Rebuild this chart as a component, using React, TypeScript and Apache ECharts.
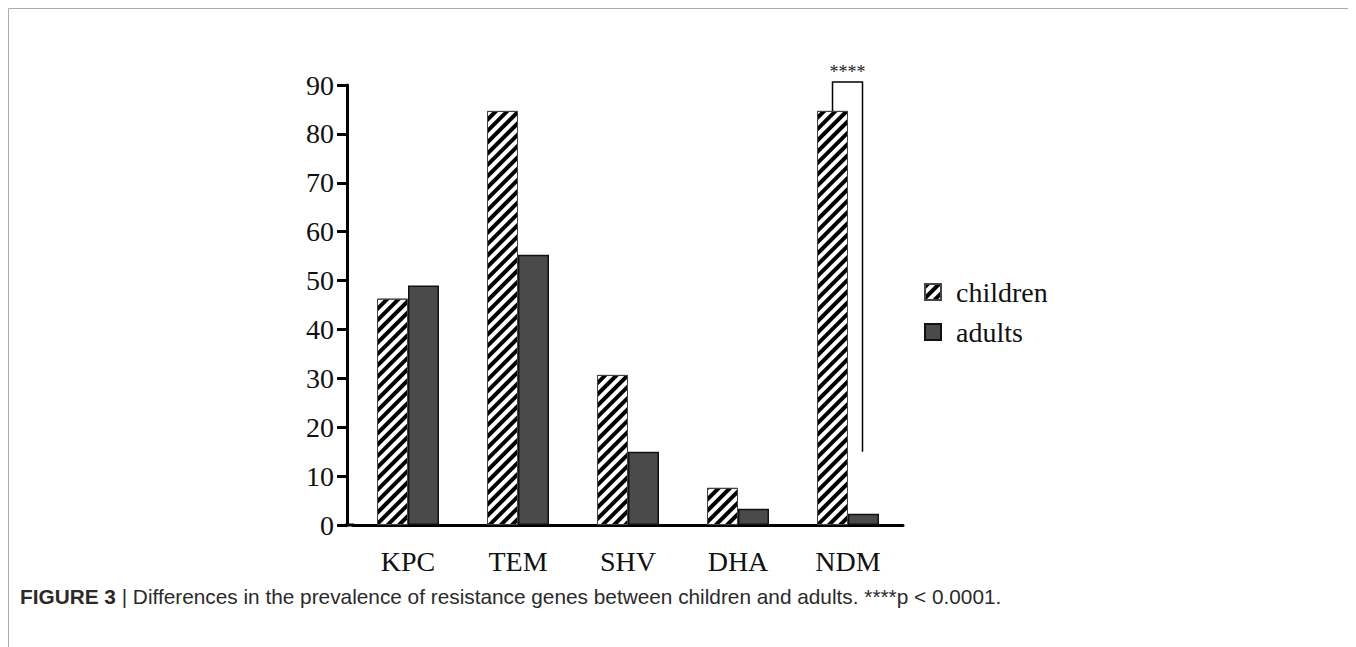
import React, { useEffect, useRef } from "react";
import * as echarts from "echarts";

const categories = ["KPC", "TEM", "SHV", "DHA", "NDM"];
const childrenValues = [46.3, 84.7, 30.7, 7.6, 84.7];
const adultsValues = [49.0, 55.3, 15.0, 3.3, 2.3];
const yTicks = { min: 0, max: 90, interval: 10 };
// significance bracket: [category index, bar top, bracket top, right leg bottom]
const bracket = [[4, 84.7, 90.6, 15]];
const bracketLabel = "****";
const captionBold = "FIGURE 3";
const captionText = " | Differences in the prevalence of resistance genes between children and adults. ****p < 0.0001.";

const SERIF = "'Liberation Serif', 'Times New Roman', serif";
const SANS = "'Liberation Sans', Arial, sans-serif";

export default function App() {
  const ref = useRef<HTMLDivElement>(null);
  useEffect(() => {
    if (!ref.current) return;
    const chart = echarts.init(ref.current, undefined, { renderer: "svg" });
    const W = 1346;
    const H = 639;
    const barW = 31;
    const gridLeft = 345;
    const gridTop = 77;
    const gridH = 440;
    const hatch = {
      symbol: "rect",
      symbolSize: 1,
      color: "#000",
      backgroundColor: "#fff",
      dashArrayX: [1, 0],
      dashArrayY: [4, 4],
      rotation: -Math.PI / 4,
    };
    chart.setOption({
      animation: false,
      backgroundColor: "#fff",
      grid: { left: gridLeft, top: gridTop, width: 550, height: gridH, containLabel: false },
      legend: {
        data: ["children", "adults"],
        orient: "vertical",
        left: 911,
        top: 265,
        itemWidth: 16,
        itemHeight: 16,
        itemGap: 12,
        icon: "rect",
        textStyle: { fontFamily: SERIF, fontSize: 28, color: "#111", padding: [0, 0, 0, 10] },
      },
      xAxis: {
        type: "category",
        data: categories,
        axisLine: { lineStyle: { color: "#000", width: 3 } },
        axisTick: { show: false },
        axisLabel: { fontFamily: SERIF, fontSize: 28, color: "#111", margin: 22 },
      },
      yAxis: {
        type: "value",
        min: yTicks.min,
        max: yTicks.max,
        interval: yTicks.interval,
        offset: 6,
        splitLine: { show: false },
        axisLine: { show: true, lineStyle: { color: "#000", width: 3 } },
        axisTick: { show: true, length: 10, lineStyle: { color: "#000", width: 3 } },
        axisLabel: { fontFamily: SERIF, fontSize: 28, color: "#111", margin: 13 },
      },
      series: [
        {
          name: "children",
          type: "bar",
          data: childrenValues,
          barWidth: barW,
          barGap: "0%",
          itemStyle: { color: "#fff", borderColor: "#444", borderWidth: 1, decal: hatch },
        },
        {
          name: "adults",
          type: "bar",
          data: adultsValues,
          barWidth: barW,
          barGap: "0%",
          itemStyle: { color: "#4a4a4a", borderColor: "#111", borderWidth: 1.5 },
        },
        {
          type: "custom",
          silent: true,
          z: 10,
          clip: false,
          data: bracket,
          encode: { x: 0, y: 1 },
          renderItem: (params: any, api: any) => {
            const idx = api.value(0);
            const barTop = api.coord([idx, api.value(1)]);
            const top = api.coord([idx, api.value(2)]);
            const bottom = api.coord([idx, api.value(3)]);
            const lx = barTop[0] - barW / 2;
            const rx = barTop[0] + barW / 2 - 1;
            return {
              type: "group",
              children: [
                {
                  type: "polyline",
                  shape: { points: [[lx, barTop[1]], [lx, top[1]], [rx, top[1]], [rx, bottom[1]]] },
                  style: { stroke: "#000", lineWidth: 1.5, fill: "none" },
                },
                {
                  type: "text",
                  x: (lx + rx) / 2,
                  y: top[1] - 10,
                  style: {
                    text: bracketLabel,
                    fontFamily: SERIF,
                    fontSize: 18,
                    fill: "#222",
                    align: "center",
                    verticalAlign: "middle",
                  },
                },
              ],
            };
          },
        },
      ],
      graphic: [
        {
          type: "polyline",
          shape: { points: [[0.5, H], [0.5, 0.5], [W - 0.5, 0.5], [W - 0.5, H]] },
          style: { stroke: "#aaa", lineWidth: 1, fill: "none" },
          silent: true,
        },
        {
          type: "line",
          shape: { x1: gridLeft - 8, y1: gridTop + gridH, x2: gridLeft + 1, y2: gridTop + gridH },
          style: { stroke: "#000", lineWidth: 3 },
          silent: true,
        },
        {
          type: "text",
          left: 12,
          top: 578,
          style: {
            text: "{b|" + captionBold + "}{n|" + captionText + "}",
            rich: {
              b: { fontFamily: SANS, fontSize: 20.8, fontWeight: "bold", fill: "#2a2a2a" },
              n: { fontFamily: SANS, fontSize: 20.8, fill: "#2a2a2a" },
            },
          },
        },
      ],
    });
    return () => chart.dispose();
  }, []);
  return <div ref={ref} style={{ width: 1346, height: 639 }} />;
}
